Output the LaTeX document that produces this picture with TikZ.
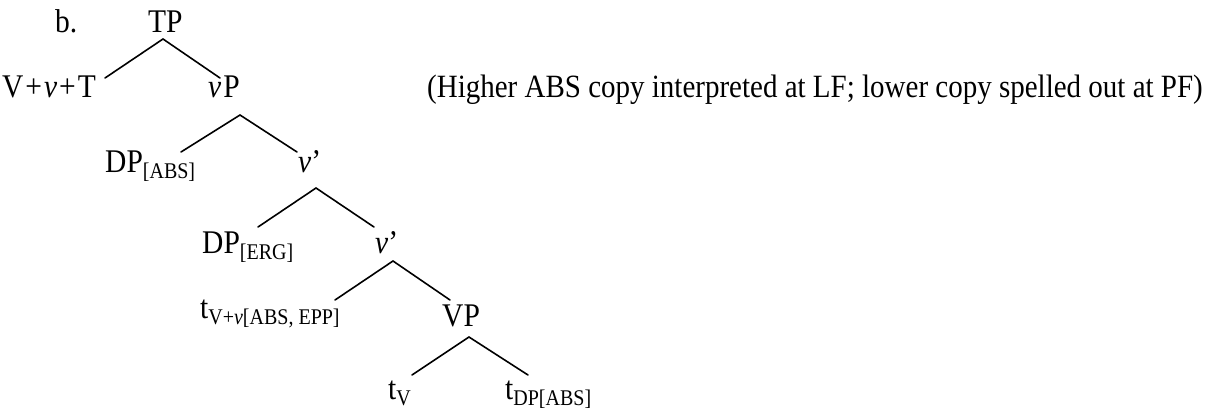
\documentclass[tikz,border=0pt]{standalone}
\usepackage{fontspec}
\setmainfont{Liberation Serif}
% lowered, smaller label for feature subscripts
\newcommand\lsub[1]{\raisebox{-5.5pt}{\fontsize{20}{21}\selectfont #1}}
\begin{document}
\begin{tikzpicture}[x=1pt,y=-1pt,
  lbl/.style={inner sep=0pt,anchor=base west,yscale=1.12,
    font=\fontsize{29.5}{32}\selectfont},
  branch/.style={line width=1.6pt,line cap=round}]
\useasboundingbox (0,0) rectangle (1212,408);

% labels of the tree
\node[lbl] (ex)   at (55,32)   {b.};
\node[lbl] (TP)   at (148,32)  {TP};
\node[lbl] (VvT)  at (2,97)    {V\kern2pt+\kern2pt\textit{v}\kern2pt+\kern2ptT};
\node[lbl] (vP)   at (208,97)  {\textit{v}\kern2ptP};
\node[lbl,font=\fontsize{29}{32}\selectfont] (note) at (427,97)
  {(Higher ABS copy interpreted at LF; lower copy spelled out at PF)};
\node[lbl] (DPa)  at (105,172) {DP\lsub{[ABS]}};
\node[lbl] (vb1)  at (298,172) {\textit{v}’};
\node[lbl] (DPe)  at (202,253) {DP\lsub{[ERG]}};
\node[lbl] (vb2)  at (375,253) {\textit{v}’};
\node[lbl] (tVv)  at (200,318) {t\lsub{V+\textit{v}[ABS, EPP]}};
\node[lbl] (VP)   at (442,326) {VP};
\node[lbl] (tV)   at (388,399) {t\lsub{V}};
\node[lbl] (tDP)  at (505,399) {t\lsub{DP[ABS]}};

% branching points under each mother and attachment points above each daughter
\coordinate (TP-b)  at (163,39);
\coordinate (VvT-t) at (105,78);
\coordinate (vP-t)  at (220,78);
\coordinate (vP-b)  at (240,115);
\coordinate (DPa-t) at (181,152);
\coordinate (vb1-t) at (297,152);
\coordinate (vb1-b) at (316,188);
\coordinate (DPe-t) at (258,227);
\coordinate (vb2-t) at (374,227);
\coordinate (vb2-b) at (393,261);
\coordinate (tVv-t) at (335,300);
\coordinate (VP-t)  at (450,300);
\coordinate (VP-b)  at (469,337);
\coordinate (tV-t)  at (412,375);
\coordinate (tDP-t) at (528,375);

% branches
\draw[branch] (VvT-t) -- (TP-b) -- (vP-t);
\draw[branch] (DPa-t) -- (vP-b) -- (vb1-t);
\draw[branch] (DPe-t) -- (vb1-b) -- (vb2-t);
\draw[branch] (tVv-t) -- (vb2-b) -- (VP-t);
\draw[branch] (tV-t) -- (VP-b) -- (tDP-t);
\end{tikzpicture}
\end{document}
